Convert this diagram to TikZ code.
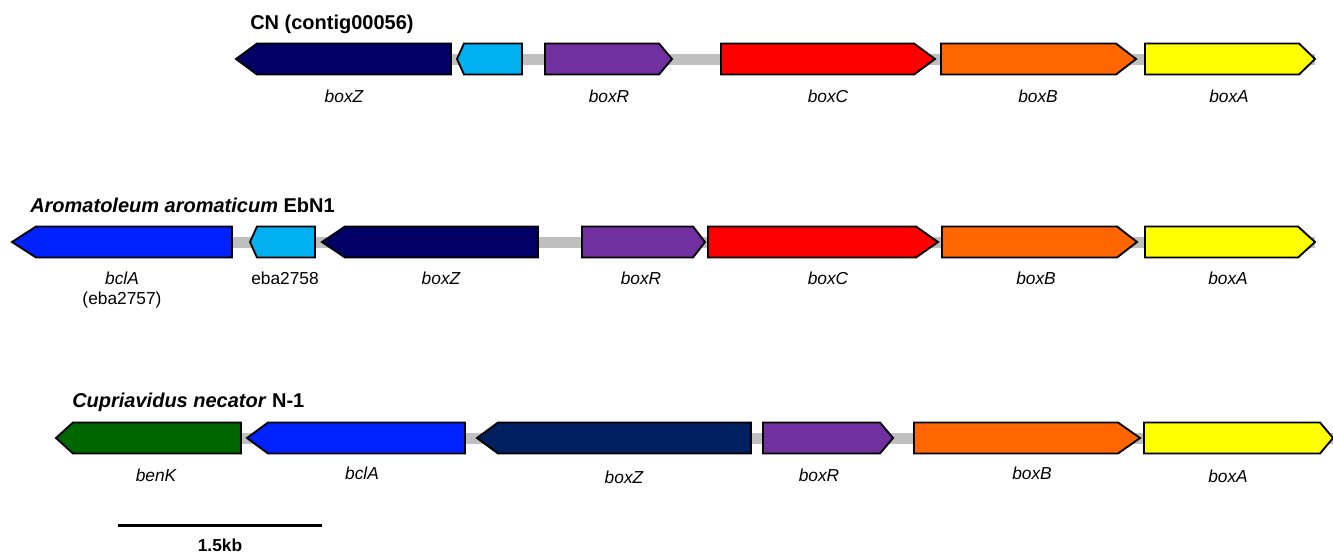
\documentclass[tikz,border=0pt]{standalone}
\usepackage{fontspec}
\setmainfont{Liberation Sans}
\definecolor{cnavy}{HTML}{000066}
\definecolor{cnavyb}{HTML}{002060}
\definecolor{ccyan}{HTML}{00B0F0}
\definecolor{cpurple}{HTML}{7030A0}
\definecolor{cred}{HTML}{FF0000}
\definecolor{corange}{HTML}{FF6600}
\definecolor{cyellow}{HTML}{FFFF00}
\definecolor{cblue}{HTML}{0022FF}
\definecolor{cgreen}{HTML}{006600}
\definecolor{cband}{HTML}{BFBFBF}
\newcommand\gfwd[6]{%
  \draw[gene,fill=#6] ({#2},{#5-15.5}) -- ({#3},{#5-15.5}) -- ({#4},{#5}) -- ({#3},{#5+15.5}) -- ({#2},{#5+15.5}) -- cycle;
  \coordinate (#1) at ({(#2+#4)/2},{#5});}
\newcommand\grev[6]{%
  \draw[gene,fill=#6] ({#4},{#5-15.5}) -- ({#3},{#5-15.5}) -- ({#2},{#5}) -- ({#3},{#5+15.5}) -- ({#4},{#5+15.5}) -- cycle;
  \coordinate (#1) at ({(#2+#4)/2},{#5});}
\begin{document}
\begin{tikzpicture}[x=0.75pt,y=-0.75pt,
  gene/.style={draw=black,line width=1.4pt,line join=miter},
  lbl/.style={font=\fontsize{13}{15}\selectfont\itshape,anchor=base,inner sep=0pt},
  plbl/.style={font=\fontsize{13}{15}\selectfont,anchor=base,inner sep=0pt},
  ttl/.style={font=\fontsize{15}{18}\selectfont\bfseries,anchor=base west,inner sep=0pt},
  band/.style={fill=cband}]
\useasboundingbox (0,0) rectangle (1333,553);

% ---------- Row 1: CN (contig00056)
\fill[band] (451,53.5) rectangle (1315,64.5);
\node[ttl] (t1) at (250,29) {CN (contig00056)};
\grev{a1}{236}{257}{451}{59}{cnavy}
\grev{a2}{457}{464}{522}{59}{ccyan}
\gfwd{a3}{545}{659}{672}{59}{cpurple}
\gfwd{a4}{721}{914}{935}{59}{cred}
\gfwd{a5}{941}{1116}{1136}{59}{corange}
\gfwd{a6}{1145}{1299}{1315}{59}{cyellow}
\node[lbl] (l1) at (344,102) {boxZ};
\node[lbl] (l3) at (609,102) {boxR};
\node[lbl] (l4) at (828,102) {boxC};
\node[lbl] (l5) at (1038,102) {boxB};
\node[lbl] (l6) at (1229,102) {boxA};

% ---------- Row 2: Aromatoleum aromaticum EbN1
\fill[band] (232,236.5) rectangle (1315,247.5);
\node[ttl] (t2) at (30,212) {\itshape Aromatoleum aromaticum\/ \upshape EbN1};
\grev{b1}{12}{36}{232}{242}{cblue}
\grev{b2}{250}{257}{315}{242}{ccyan}
\grev{b3}{322}{345}{538}{242}{cnavy}
\gfwd{b4}{582}{693}{705}{242}{cpurple}
\gfwd{b5}{708}{916}{938}{242}{cred}
\gfwd{b6}{942}{1117}{1137}{242}{corange}
\gfwd{b7}{1145}{1298}{1315}{242}{cyellow}
\node[lbl] (m1) at (122,284) {bclA};
\node[plbl] (m1b) at (122,304) {(eba2757)};
\node[plbl] (m2) at (285,284) {eba2758};
\node[lbl] (m3) at (441,284) {boxZ};
\node[lbl] (m4) at (641,284) {boxR};
\node[lbl] (m5) at (828,284) {boxC};
\node[lbl] (m6) at (1036,284) {boxB};
\node[lbl] (m7) at (1228,284) {boxA};

% ---------- Row 3: Cupriavidus necator N-1
\fill[band] (241,432.5) rectangle (1333,443.5);
\node[ttl] (t3) at (72,407) {\itshape Cupriavidus necator\/ \upshape N-1};
\grev{c1}{56}{73}{241}{438}{cgreen}
\grev{c2}{247}{268}{465}{438}{cblue}
\grev{c3}{477}{498}{751}{438}{cnavyb}
\gfwd{c4}{763}{880}{893}{438}{cpurple}
\gfwd{c5}{914}{1118}{1140}{438}{corange}
\gfwd{c6}{1144}{1320}{1333}{438}{cyellow}
\node[lbl] (n1) at (156,481) {benK};
\node[lbl] (n2) at (362,479) {bclA};
\node[lbl] (n3) at (624,483) {boxZ};
\node[lbl] (n4) at (819,481) {boxR};
\node[lbl] (n5) at (1032,479) {boxB};
\node[lbl] (n6) at (1228,482) {boxA};

% ---------- scale bar
\coordinate (s1) at (118,525.5);
\coordinate (s2) at (322,525.5);
\draw[line width=2.2pt] (s1) -- (s2);
\node[font=\fontsize{13}{15}\selectfont\bfseries,anchor=base,inner sep=0pt] (sl) at (220,551) {1.5kb};
\end{tikzpicture}
\end{document}
